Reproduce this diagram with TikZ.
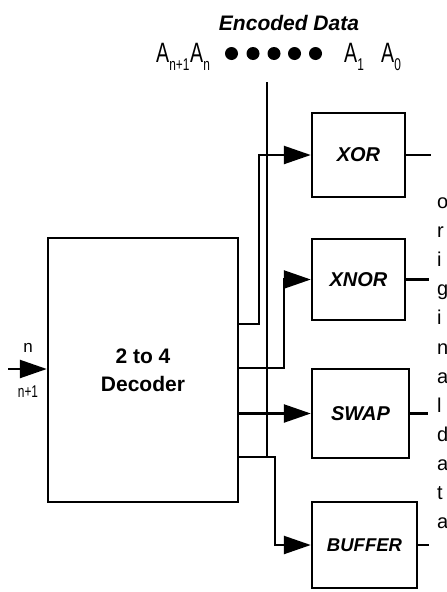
\documentclass[tikz,border=0pt]{standalone}
\usepackage{fontspec}
\setmainfont{Liberation Sans}
\newfontfamily\condfont[FakeStretch=0.7]{Liberation Sans}
\usetikzlibrary{arrows.meta}
\begin{document}
\begin{tikzpicture}[x=1pt,y=-1pt,line width=2.4pt,
  blk/.style={draw,inner sep=0pt,line width=2.4pt},
  gate/.style={blk,font=\bfseries\itshape\fontsize{20}{20}\selectfont},
  sig/.style={-{Triangle[length=27pt,width=18pt]}},
  lbl/.style={inner sep=0pt,anchor=base west},
  alab/.style={lbl,font=\condfont\fontsize{28}{28}\selectfont},
  side/.style={lbl,font=\fontsize{20}{20}\selectfont}]
\useasboundingbox (0,0) rectangle (447,592);
\newcommand\subt[1]{\raisebox{-8pt}{\fontsize{17}{17}\selectfont #1}}
% blocks
\node[blk,minimum width=190pt,minimum height=264pt,align=center,
      font=\bfseries\fontsize{21}{28}\selectfont] (dec) at (143,370) {2 to 4\\Decoder};
\node[gate,minimum width=93pt,minimum height=84pt] (xor) at (358.5,155) {XOR};
\node[gate,minimum width=93pt,minimum height=81pt] (xnor) at (358.5,279.5) {XNOR};
\node[gate,minimum width=97pt,minimum height=89pt] (swap) at (360.5,413.5) {SWAP};
\node[gate,minimum width=105pt,minimum height=86pt,font=\bfseries\itshape\fontsize{18.5}{18.5}\selectfont] (buffer) at (364.5,545) {BUFFER};
% title and data bits
\node[inner sep=0pt,anchor=base,font=\bfseries\itshape\fontsize{21}{21}\selectfont] (title) at (289,30) {Encoded Data};
\node[alab] (an1) at (155,62) {A\subt{n+1}};
\node[alab] (an) at (189,62) {A\subt{n}};
\node[alab] (a1) at (343,62) {A\subt{1}};
\node[alab] (a0) at (380,62) {A\subt{0}};
\foreach \x in {231.5,253,274,294.5,315.5} \fill (\x,53.5) circle (6.5pt);
% data bus line
\coordinate (bustop) at (267,82);
\coordinate (busbot) at (267,457);
\draw (bustop) -- (busbot);
% input
\coordinate (inp) at (8,369);
\draw[sig] (inp) -- (dec.west |- inp);
\node[inner sep=0pt,anchor=base,font=\fontsize{17}{17}\selectfont] (nl) at (28,352) {n};
\node[inner sep=0pt,anchor=base,font=\condfont\fontsize{17}{17}\selectfont] (n1l) at (28,397) {n+1};
% decoder outputs
\draw[sig] (dec.east |- 0,324) -| (259,155) -- (xor.west);
\draw[sig] (dec.east |- 0,368) -| (284,279.5) -- (xnor.west);
\draw[sig] (dec.east |- swap.west) -- (swap.west);
\draw[sig] (dec.east |- busbot) -| (275,545) -- (buffer.west);
% output stubs
\draw (xor.east) -- ++(25,0);
\draw (xnor.east) -- ++(23,0);
\draw (swap.east) -- ++(18,0);
\draw (buffer.east) -- ++(11,0);
% side text
\foreach \c [count=\i from 0] in {o,r,i,g,i,n,a,l,d,a,t,a}
  \node[side] (t\i) at (436,{208.5+29.1*\i}) {\c};
\end{tikzpicture}
\end{document}
